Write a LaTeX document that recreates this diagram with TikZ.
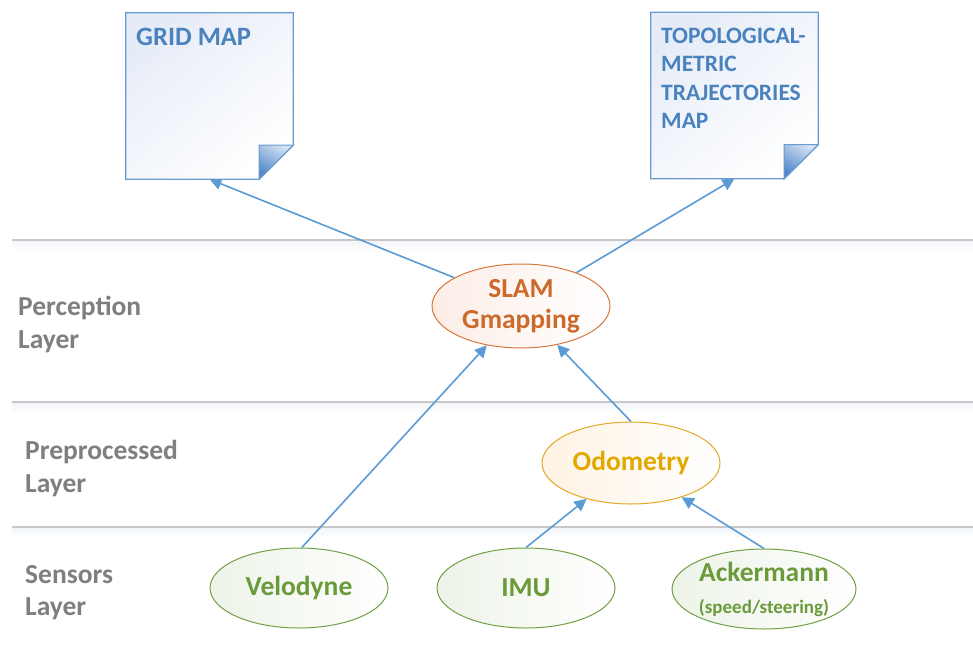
\documentclass[tikz,border=0pt]{standalone}
\usepackage{fontspec}
\setmainfont{Carlito}
\usetikzlibrary{arrows.meta,shapes.geometric,calc}
\pgfdeclarelayer{back}
\pgfsetlayers{back,main}

\definecolor{linkblue}{HTML}{5B9BD5}
\definecolor{docline}{HTML}{6A9BD0}
\definecolor{doctext}{HTML}{4A82BE}
\definecolor{docfill}{HTML}{E6ECF7}
\definecolor{flaplight}{HTML}{D3E0F3}
\definecolor{flapdark}{HTML}{4F87C8}
\definecolor{slamline}{HTML}{D9773A}
\definecolor{slamtext}{HTML}{CC6A2C}
\definecolor{slamfill}{HTML}{FCEDE6}
\definecolor{odoline}{HTML}{E2A826}
\definecolor{odotext}{HTML}{E3A800}
\definecolor{odofill}{HTML}{FEF3E3}
\definecolor{sensline}{HTML}{6FA043}
\definecolor{senstext}{HTML}{6A9A3A}
\definecolor{sensfill}{HTML}{EDF3E8}
\definecolor{laygray}{HTML}{7F7F7F}
\definecolor{sepline}{HTML}{C8C8C8}
\definecolor{sepshade}{HTML}{F1F4F8}

% page outline with a folded bottom-right corner, drawn round a named box
\newcommand\foldeddoc[1]{%
  \path[docframe] (#1.north west) -- (#1.north east)
    -- ($(#1.south east)+(0,-34)$) -- ($(#1.south east)+(-34,0)$)
    -- (#1.south west) -- cycle;
  \path[docflap] ($(#1.south east)+(-34,0)$) -- ($(#1.south east)+(-34,-34)$)
    -- ($(#1.south east)+(0,-34)$) -- cycle;
}

% layer separator with its soft band underneath
\newcommand\layerrule[1]{%
  \fill[top color=sepshade, bottom color=white] (12,#1) rectangle (973,#1+11);
  \draw[sepline, line width=1.4pt] (12,#1) -- (973,#1);
}

\begin{document}
\begin{tikzpicture}[x=1pt, y=-1pt,
  bubble/.style={ellipse, minimum width=178pt, minimum height=80pt,
    line width=1pt, inner sep=0pt, align=center,
    font=\fontsize{27.5}{31}\selectfont\bfseries},
  slamnode/.style={bubble, draw=slamline, text=slamtext,
    left color=slamfill, right color=white, minimum height=84pt},
  odonode/.style={bubble, draw=odoline, text=odotext,
    left color=odofill, right color=white, minimum height=82pt},
  sensnode/.style={bubble, draw=sensline, text=senstext,
    left color=sensfill, right color=white},
  docbox/.style={rectangle, minimum width=167pt, minimum height=166pt,
    inner sep=0pt, draw=none},
  docframe/.style={draw=docline, line width=1.2pt,
    top color=docfill, bottom color=white, shading angle=40},
  docflap/.style={draw=docline, line width=1pt,
    top color=flaplight, bottom color=flapdark, shading angle=-30},
  doclabel/.style={anchor=north west, inner sep=0pt, align=left, text=doctext},
  layerlabel/.style={anchor=north west, inner sep=0pt, align=left,
    text=laygray, font=\fontsize{27.5}{32.5}\selectfont\bfseries},
  link/.style={draw=linkblue, line width=1.6pt,
    -{Triangle[length=12pt,width=12pt]}}
]
\useasboundingbox (0,0) rectangle (973,650);

% layer separators, kept behind everything else
\begin{pgfonlayer}{back}
\layerrule{240}
\layerrule{402}
\layerrule{527}
\end{pgfonlayer}

% layer names
\node[layerlabel] (perc) at (18,296) {Perception\\Layer};
\node[layerlabel] (prep) at (25,440) {Preprocessed\\Layer};
\node[layerlabel] (sens) at (25,565) {Sensors\\Layer};

% output maps
\node[docbox] (grid) at (209.5,96) {};
\foldeddoc{grid}
\node[doclabel, font=\fontsize{26.5}{31}\selectfont\bfseries] (gridtext)
  at (136,28) {GRID MAP};

\node[docbox] (topo) at (734.5,95.5) {};
\foldeddoc{topo}
\node[doclabel, font=\fontsize{23.5}{28.3}\selectfont\bfseries] (topotext)
  at (661,28) {TOPOLOGICAL-\\METRIC\\TRAJECTORIES\\MAP};

% processing nodes
\node[slamnode] (slam) at (521,306) {SLAM\\Gmapping};
\node[odonode] (odo) at (631,463) {Odometry};

% sensors
\node[sensnode] (velo) at (299,588) {Velodyne};
\node[sensnode] (imu) at (526,588) {IMU};
\node[sensnode] (acker) at (764,589)
  {Ackermann\\[1pt]{\fontsize{19}{21}\selectfont(speed/steering)}};

% data flow
\begin{pgfonlayer}{back}
\draw[link] (slam.157.6) -- (grid.south);
\draw[link] (slam.31.4) -- (topo.south);
\end{pgfonlayer}
\draw[link] (velo.86) -- (slam.229);
\draw[link] (odo.north) -- (slam.313.5);
\draw[link] (imu.north) -- (odo.219);
\draw[link] (acker.north) -- (odo.326);
\end{tikzpicture}
\end{document}
